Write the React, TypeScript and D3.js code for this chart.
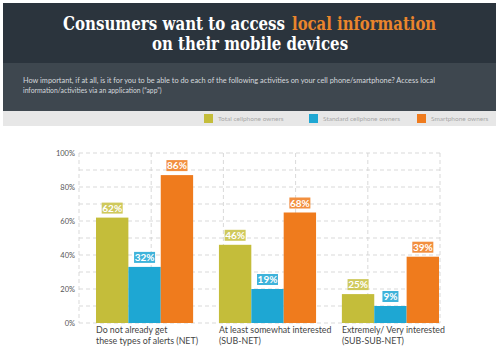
import { useLayoutEffect, useRef, useState } from 'react';
import * as d3 from 'd3';

const categories = [
  ['Do not already get', 'these types of alerts (NET)'],
  ['At least somewhat interested', '(SUB-NET)'],
  ['Extremely/ Very interested', '(SUB-SUB-NET)'],
];
const seriesNames = ['Total cellphone owners', 'Standard cellphone owners', 'Smartphone owners'];
const seriesColors = ['#c4bd3a', '#1ea7d3', '#ef7b1d'];
const labelColors = ['#cfc95c', '#3fb3da', '#f28f3f'];
// bar heights as drawn in the picture
const totalValues = [62, 33, 87];
const standardValues = [46, 20, 65];
const smartValues = [17, 10, 39];
// printed labels
const totalLabels = ['62%', '32%', '86%'];
const standardLabels = ['46%', '19%', '68%'];
const smartLabels = ['25%', '9%', '39%'];
const yTicks = [0, 20, 40, 60, 80, 100];

const groups = [totalValues, standardValues, smartValues];
const groupLabels = [totalLabels, standardLabels, smartLabels];

// title pieces: text, colour, left x, baseline y, target width
const titleParts: [string, string, number, number, number][] = [
  ['Consumers want to access', '#ffffff', 63, 30, 222],
  ['local information', '#ea852c', 292, 30, 144],
  ['on their mobile devices', '#ffffff', 152, 50, 196],
];

export default function App() {
  const titleRefs = useRef<(SVGTextElement | null)[]>([]);
  const [scales, setScales] = useState<number[]>(titleParts.map(() => 0.75));

  useLayoutEffect(() => {
    setScales(
      titleParts.map((p, i) => {
        const el = titleRefs.current[i];
        const w = el ? el.getComputedTextLength() : 0;
        return w > 0 ? p[4] / w : 0.75;
      }),
    );
  }, []);

  const x0 = d3.scaleBand<number>().domain([0, 1, 2]).range([96, 439]).paddingInner(0.21).paddingOuter(0);
  const x1 = d3.scaleBand<number>().domain([0, 1, 2]).range([0, x0.bandwidth()]);
  const y = d3.scaleLinear().domain([0, 100]).range([323, 153]);
  const gridX = d3.range(6).map((i) => d3.scaleLinear().domain([0, 5]).range([79, 440])(i));
  const gridY = d3.range(0, 101, 10);

  return (
    <div style={{ position: 'fixed', left: 0, top: 0 }}>
      <svg width={500} height={350} style={{ display: 'block', background: '#fff' }}>
        {/* header */}
        <rect x={3} y={3} width={493} height={60} fill="#2b343d" />
        <rect x={3} y={63} width={493} height={48} fill="#3e474f" />
        {titleParts.map((p, i) => (
          <text
            key={p[0]}
            ref={(el) => {
              titleRefs.current[i] = el;
            }}
            transform={`translate(${p[2]},${p[3]}) scale(${scales[i]},1)`}
            fontFamily="DejaVu Serif"
            fontWeight="bold"
            fontSize={18}
            fill={p[1]}
          >
            {p[0]}
          </text>
        ))}
        <text x={23} y={83} fontFamily="Lato" fontSize={6.8} fill="#d5d9dd" textLength={412} lengthAdjust="spacingAndGlyphs">
          How important, if at all, is it for you to be able to do each of the following activities on your cell phone/smartphone? Access local
        </text>
        <text x={23} y={93} fontFamily="Lato" fontSize={6.8} fill="#d5d9dd">
          information/activities via an application (“app”)
        </text>

        {/* legend */}
        <rect x={3} y={111} width={493} height={15} fill="#e7e7e7" />
        {seriesNames.map((name, i) => {
          const lx = [204, 309, 417][i];
          return (
            <g key={name}>
              <rect x={lx} y={114} width={9} height={9} fill={seriesColors[i]} />
              <text x={lx + 14} y={121} fontFamily="Lato" fontSize={6.5} fill="#a8a8a8">
                {name}
              </text>
            </g>
          );
        })}

        {/* grid */}
        {gridY.map((v) => (
          <line key={'h' + v} x1={79} x2={440} y1={y(v)} y2={y(v)} stroke="#cfcfcf" strokeWidth={0.8} strokeDasharray="4,3" />
        ))}
        {gridX.map((gx, i) => (
          <line key={'v' + i} x1={gx} x2={gx} y1={y(100)} y2={y(0)} stroke="#cfcfcf" strokeWidth={0.8} strokeDasharray="4,3" />
        ))}
        {yTicks.map((t) => (
          <text key={t} x={75} y={y(t) + 3} textAnchor="end" fontFamily="Lato" fontSize={7.5} fill="#555">
            {t}%
          </text>
        ))}

        {/* bars */}
        {groups.map((vals, gi) => (
          <g key={gi} transform={`translate(${x0(gi)},0)`}>
            {vals.map((v, si) => (
              <rect key={si} x={x1(si)} y={y(v)} width={x1.bandwidth()} height={y(0) - y(v)} fill={seriesColors[si]} />
            ))}
            {vals.map((v, si) => {
              const cx = (x1(si) ?? 0) + x1.bandwidth() / 2;
              const label = groupLabels[gi][si];
              const w = label.length > 2 ? 21 : 16;
              return (
                <g key={'l' + si}>
                  <rect x={cx - w / 2} y={y(v) - 15} width={w} height={11} fill={labelColors[si]} />
                  <text x={cx} y={y(v) - 6} textAnchor="middle" fontFamily="Lato" fontWeight="bold" fontSize={10} fill="#fff">
                    {label}
                  </text>
                </g>
              );
            })}
          </g>
        ))}

        {/* category labels */}
        {categories.map((lines, gi) => (
          <text key={gi} x={x0(gi)} y={333} fontFamily="Lato" fontSize={8.8} fill="#444">
            <tspan x={x0(gi)}>{lines[0]}</tspan>
            <tspan x={x0(gi)} dy={10.5}>
              {lines[1]}
            </tspan>
          </text>
        ))}
      </svg>
    </div>
  );
}
